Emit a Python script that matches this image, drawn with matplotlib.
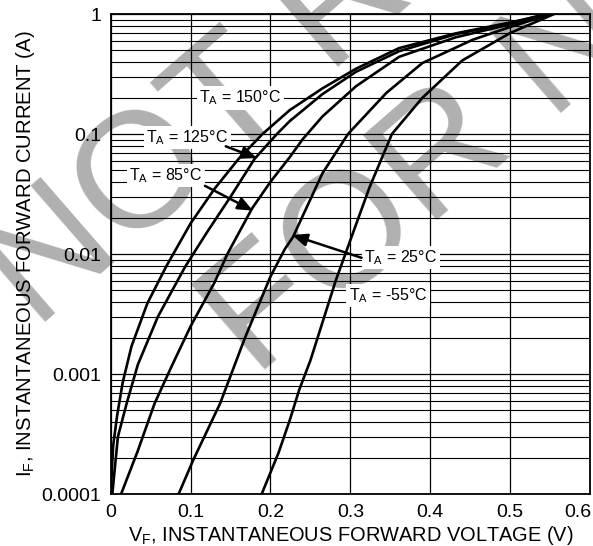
import matplotlib
matplotlib.use("Agg")
import matplotlib.pyplot as plt
import matplotlib.transforms as mtransforms
import numpy as np

plt.rcParams['font.family'] = ['Liberation Sans', 'DejaVu Sans']
plt.rcParams['mathtext.default'] = 'regular'

# forward voltage (V) / forward current (A)
v_150 = [0.0, 0.003, 0.008, 0.015, 0.026, 0.046, 0.07, 0.10, 0.13, 0.16, 0.19, 0.224, 0.265, 0.307, 0.361, 0.432, 0.50, 0.548]
i_150 = [1e-4, 2.5e-4, 4.5e-4, 8.5e-4, 1.7e-3, 3.9e-3, 8e-3, 0.018, 0.035, 0.062, 0.10, 0.158, 0.24, 0.35, 0.52, 0.69, 0.85, 1.0]

v_125 = [0.002, 0.009, 0.02, 0.034, 0.059, 0.093, 0.12, 0.15, 0.18, 0.208, 0.224, 0.265, 0.307, 0.361, 0.432, 0.50, 0.545]
i_125 = [1e-4, 3e-4, 5.7e-4, 1.2e-3, 3e-3, 7.8e-3, 0.015, 0.03, 0.062, 0.10, 0.128, 0.215, 0.33, 0.49, 0.68, 0.84, 1.0]

v_85 = [0.013, 0.034, 0.055, 0.076, 0.10, 0.13, 0.146, 0.177, 0.20, 0.224, 0.24, 0.265, 0.307, 0.361, 0.432, 0.50, 0.548]
i_85 = [1e-4, 2.3e-4, 5.7e-4, 1.15e-3, 2.5e-3, 5.8e-3, 0.01, 0.024, 0.04, 0.064, 0.09, 0.14, 0.25, 0.44, 0.64, 0.82, 1.0]

v_25 = [0.085, 0.103, 0.137, 0.168, 0.20, 0.218, 0.228, 0.265, 0.297, 0.345, 0.39, 0.453, 0.50, 0.552]
i_25 = [1e-4, 1.9e-4, 5.7e-4, 2e-3, 6.5e-3, 0.011, 0.0138, 0.047, 0.10, 0.22, 0.39, 0.61, 0.78, 1.0]

v_m55 = [0.189, 0.21, 0.224, 0.236, 0.25, 0.282, 0.324, 0.352, 0.39, 0.44, 0.50, 0.555]
i_m55 = [1e-4, 2.2e-4, 4.1e-4, 7.4e-4, 1.3e-3, 6.1e-3, 0.036, 0.10, 0.20, 0.41, 0.695, 1.0]

x_ticks = [0, 0.1, 0.2, 0.3, 0.4, 0.5, 0.6]
x_labels = ['0', '0.1', '0.2', '0.3', '0.4', '0.5', '0.6']
y_ticks = [1e-4, 1e-3, 1e-2, 1e-1, 1]
y_labels = ['0.0001', '0.001', '0.01', '0.1', '1']

fig = plt.figure(figsize=(5.93, 5.46), dpi=100)
ax = fig.add_axes([0.1867, 0.0952, 0.8083, 0.8791])
ax.patch.set_facecolor('none')

# watermark behind everything
wm = dict(fontsize=118, color='#b0b0b0', rotation=41, rotation_mode='anchor',
          ha='left', va='baseline', zorder=-1)
fig.text(36 / 593, 1 - 330 / 546, 'NOT RECOMMENDED', **wm)
fig.text(256 / 593, 1 - 378 / 546, 'FOR NEW DESIGN', **wm)

for v, i in [(v_150, i_150), (v_125, i_125), (v_85, i_85), (v_25, i_25), (v_m55, i_m55)]:
    ax.plot(v, i, color='black', lw=1.9, zorder=3, solid_joinstyle='round')

ax.set_yscale('log')
ax.set_xlim(0, 0.6)
ax.set_ylim(1e-4, 1)
ax.set_xticks(x_ticks)
ax.set_xticklabels(x_labels)
ax.set_yticks(y_ticks)
ax.set_yticklabels(y_labels)
ax.yaxis.set_minor_locator(matplotlib.ticker.LogLocator(base=10, subs=np.arange(2, 10)))
ax.yaxis.set_minor_formatter(matplotlib.ticker.NullFormatter())
ax.tick_params(which='both', length=0, labelsize=14, pad=7)
ax.grid(True, which='major', color='black', lw=0.9)
ax.grid(True, which='minor', axis='y', color='black', lw=0.8)
for s in ax.spines.values():
    s.set_linewidth(1.3)

# last x label sits a bit left of its grid line so it stays inside the figure
last = ax.get_xticklabels()[-1]
last.set_transform(last.get_transform() + mtransforms.ScaledTranslation(-0.12, 0, fig.dpi_scale_trans))

ax.set_xlabel('$V_F$, INSTANTANEOUS FORWARD VOLTAGE (V)', fontsize=14.4, labelpad=2)
ax.set_ylabel('$I_F$, INSTANTANEOUS FORWARD CURRENT (A)', fontsize=14.6, labelpad=3)

box = dict(boxstyle='square,pad=0.15', fc='white', ec='none')
arr = dict(arrowstyle='-|>,head_length=0.9,head_width=0.38', color='black', lw=1.8, shrinkA=0, shrinkB=0)
ax.text(0.162, 0.2, '$T_A$ = 150°C', fontsize=11.5, ha='center', va='center', bbox=box, zorder=4)
ax.text(0.096, 0.094, '$T_A$ = 125°C', fontsize=11.5, ha='center', va='center', bbox=box, zorder=4)
ax.text(0.069, 0.045, '$T_A$ = 85°C', fontsize=11.5, ha='center', va='center', bbox=box, zorder=4)
ax.text(0.363, 0.0094, '$T_A$ = 25°C', fontsize=11.5, ha='center', va='center', bbox=box, zorder=4)
ax.text(0.347, 0.0045, '$T_A$ = -55°C', fontsize=11.5, ha='center', va='center', bbox=box, zorder=4)
ax.annotate('', xy=(0.183, 0.063), xytext=(0.144, 0.079), arrowprops=arr, zorder=4)
ax.annotate('', xy=(0.178, 0.023), xytext=(0.118, 0.037), arrowprops=arr, zorder=4)
ax.annotate('', xy=(0.227, 0.0144), xytext=(0.314, 0.0093), arrowprops=arr, zorder=4)

fig.savefig('out.png', dpi=100)
